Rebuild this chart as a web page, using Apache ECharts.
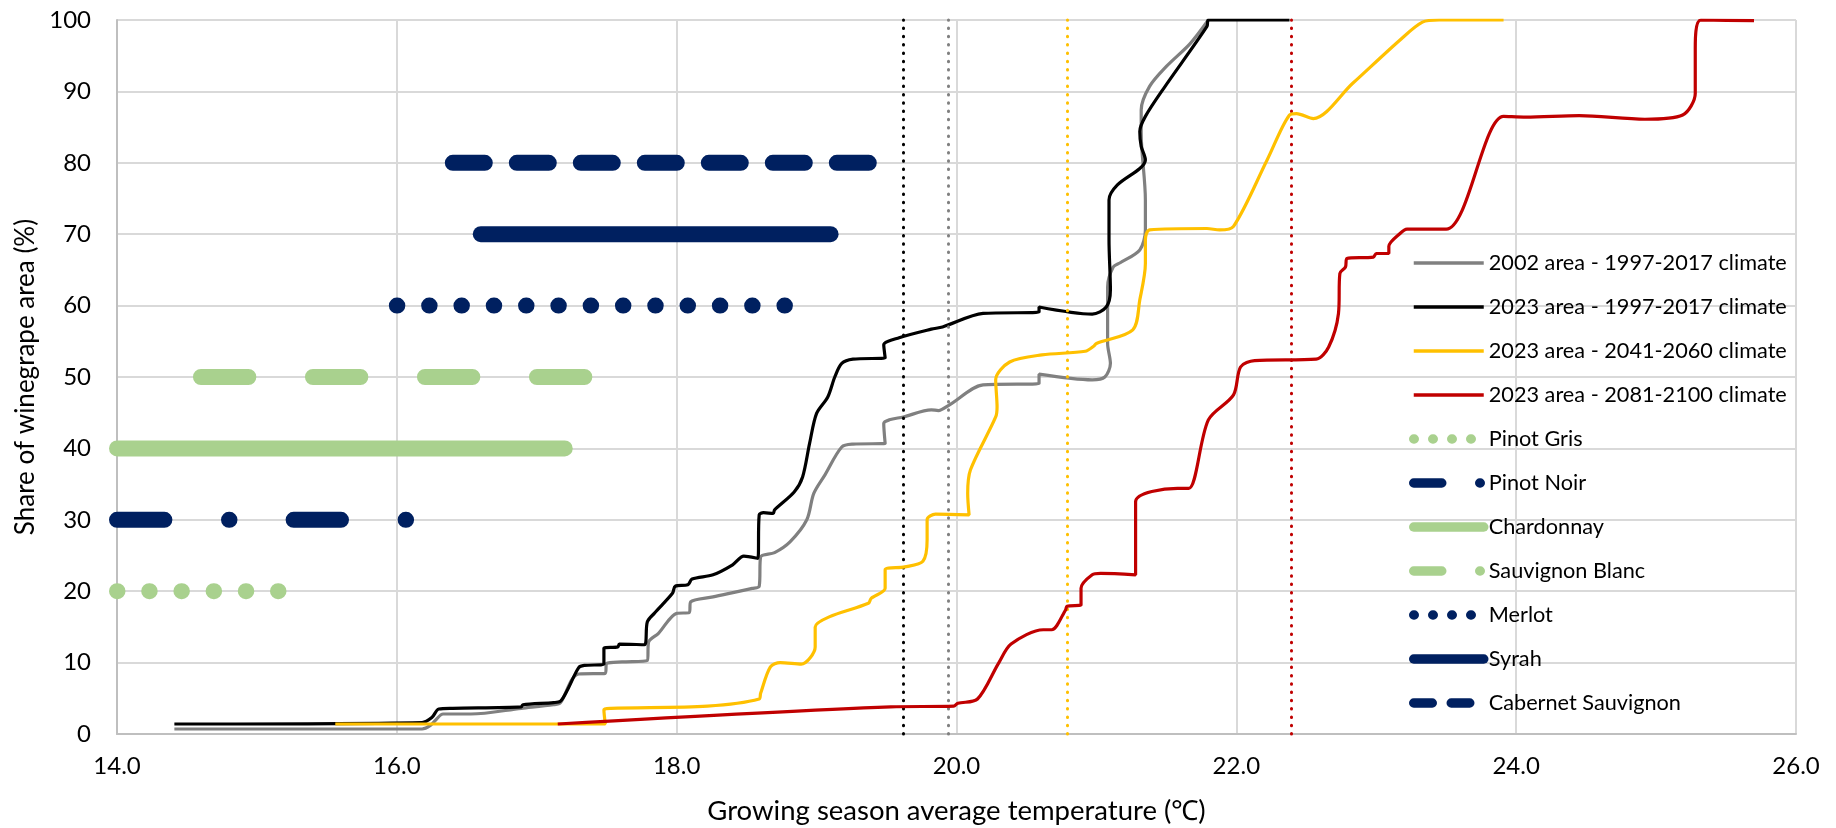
<!DOCTYPE html>
<html>
<head>
<meta charset="utf-8">
<title>Winegrape area and growing season temperature</title>
<script src="https://cdn.jsdelivr.net/npm/echarts@6/dist/echarts.min.js"></script>
<style>
  html, body { margin: 0; padding: 0; background: #fff; }
  #chart { width: 1836px; height: 828px; }
</style>
</head>
<body>
<div id="chart"></div>
<script>
// cumulative share of winegrape area, points are [temperature °C, share %]
const area2002Clim9717 = [
  [14.41, 0.7], [16.18, 0.7], [16.24, 1.2], [16.28, 2.0], [16.33, 2.8], [16.53, 2.8], [16.89, 3.6],
  [17.12, 4.1], [17.17, 4.4], [17.25, 7.6], [17.30, 8.4], [17.49, 8.5], [17.50, 9.9], [17.61, 10.1],
  [17.79, 10.3], [17.80, 12.9], [17.87, 14.1], [18.00, 16.9], [18.09, 17.0], [18.10, 18.5], [18.26, 19.2],
  [18.54, 20.4], [18.59, 20.7], [18.60, 24.8], [18.70, 25.4], [18.81, 26.9], [18.93, 30.0], [18.98, 33.7],
  [19.06, 36.3], [19.18, 40.2], [19.26, 40.6], [19.49, 40.7], [19.48, 43.5], [19.52, 44.0], [19.62, 44.4],
  [19.82, 45.4], [19.87, 45.3], [19.95, 46.1], [20.19, 48.9], [20.59, 49.1], [20.59, 50.4], [20.97, 49.6],
  [21.06, 50.0], [21.10, 51.9], [21.08, 54.7], [21.08, 62.6], [21.12, 65.4], [21.17, 66.0], [21.31, 67.8],
  [21.35, 70.6], [21.35, 74.8], [21.32, 84.1], [21.32, 87.4], [21.38, 90.7], [21.50, 93.5], [21.67, 96.7],
  [21.80, 100]
];
const area2023Clim9717 = [
  [14.41, 1.4], [16.18, 1.6], [16.25, 2.3], [16.30, 3.5], [16.40, 3.6], [16.89, 3.8], [16.90, 4.1],
  [17.12, 4.4], [17.17, 4.6], [17.22, 6.2], [17.30, 9.3], [17.34, 9.6], [17.48, 9.8], [17.48, 12.0],
  [17.58, 12.2], [17.59, 12.6], [17.77, 12.5], [17.79, 15.7], [17.84, 16.9], [17.97, 19.7], [17.99, 20.7],
  [18.08, 20.9], [18.11, 21.7], [18.26, 22.3], [18.40, 23.7], [18.48, 24.9], [18.58, 24.6], [18.59, 30.7],
  [18.62, 31.0], [18.69, 30.9], [18.70, 31.4], [18.84, 33.9], [18.90, 36.0], [18.95, 40.7], [19.00, 44.9],
  [19.08, 47.2], [19.13, 50.0], [19.18, 51.9], [19.26, 52.5], [19.49, 52.7], [19.48, 54.5], [19.59, 55.5],
  [19.82, 56.7], [19.90, 57.0], [20.19, 58.9], [20.59, 59.1], [20.59, 59.8], [20.97, 58.8], [21.07, 59.8],
  [21.10, 62.2], [21.09, 69.2], [21.09, 74.8], [21.15, 76.9], [21.31, 79.2], [21.35, 80.4], [21.32, 82.3],
  [21.31, 84.4], [21.35, 86.5], [21.48, 90.4], [21.79, 99.1], [21.80, 100], [22.38, 100]
];
const area2023Clim4160 = [
  [15.56, 1.4], [17.49, 1.4], [17.48, 3.4], [17.53, 3.6], [18.22, 3.9], [18.59, 4.9], [18.60, 5.7],
  [18.67, 9.4], [18.74, 10.0], [18.89, 9.8], [18.99, 12.2], [18.99, 15.0], [19.09, 16.4], [19.37, 18.3],
  [19.39, 19.0], [19.49, 20.4], [19.49, 23.0], [19.63, 23.4], [19.76, 24.2], [19.79, 27.2], [19.79, 30.0],
  [19.85, 30.8], [20.09, 30.7], [20.08, 33.7], [20.10, 37.0], [20.28, 44.4], [20.29, 45.8], [20.28, 49.6],
  [20.38, 52.1], [20.61, 53.1], [20.92, 53.6], [20.98, 54.3], [21.00, 54.7], [21.26, 56.6], [21.31, 60.8],
  [21.35, 65.9], [21.35, 69.2], [21.38, 70.6], [21.79, 70.8], [21.88, 70.6], [21.98, 71.1], [22.22, 80.4],
  [22.38, 86.7], [22.43, 86.9], [22.55, 86.2], [22.83, 91.1], [23.17, 97.2], [23.33, 99.7], [23.45, 100],
  [23.91, 100]
];
const area2023Clim8100 = [
  [17.15, 1.4], [19.53, 3.8], [19.98, 3.9], [20.01, 4.3], [20.15, 4.9], [20.30, 9.9], [20.39, 12.6],
  [20.62, 14.6], [20.68, 14.6], [20.78, 17.4], [20.79, 17.9], [20.89, 18.1], [20.89, 20.4], [20.97, 22.3],
  [21.03, 22.5], [21.28, 22.3], [21.28, 32.5], [21.58, 34.4], [21.66, 34.4], [21.80, 44.0], [21.98, 47.5],
  [22.03, 51.4], [22.13, 52.3], [22.57, 52.5], [22.66, 54.2], [22.73, 58.9], [22.74, 64.5], [22.78, 65.4],
  [22.79, 66.6], [22.98, 66.8], [23.00, 67.3], [23.09, 67.3], [23.09, 68.3], [23.17, 70.1], [23.22, 70.7],
  [23.50, 70.7], [23.91, 86.5], [24.07, 86.4], [24.45, 86.6], [24.92, 86.1], [25.19, 86.7], [25.28, 89.7],
  [25.28, 96.0], [25.32, 100], [25.70, 99.9]
];

const curveNames = [
  '2002 area - 1997-2017 climate',
  '2023 area - 1997-2017 climate',
  '2023 area - 2041-2060 climate',
  '2023 area - 2081-2100 climate'
];
const curveData = [area2002Clim9717, area2023Clim9717, area2023Clim4160, area2023Clim8100];
const curveColors = ['#808080', '#000000', '#FFC000', '#C00000'];
// mean temperature of each curve, drawn as a dotted vertical
const meanTemps = [19.94, 19.62, 20.79, 22.39];

// varietal temperature ranges, each at its own height on the share axis
const varietyNames = ['Pinot Gris', 'Pinot Noir', 'Chardonnay', 'Sauvignon Blanc', 'Merlot', 'Syrah', 'Cabernet Sauvignon'];
const varietyLevels = [20, 30, 40, 50, 60, 70, 80];
const varietyFrom = [14.0, 14.0, 14.0, 14.6, 16.0, 16.6, 16.4];
const varietyTo = [15.2, 16.1, 17.2, 17.4, 18.8, 19.1, 19.4];

const navy = '#002060';
const green = '#A9D18E';
const varietyColors = [green, navy, green, green, navy, navy, navy];
// dash pattern on the plot and in the legend
const varietyDash = [[0.5, 31.7], [47.4, 64.6, 0.5, 64.1], 'solid', [47.4, 64.6], [0.5, 31.8], 'solid', [32, 32]];
const varietyLegendDash = [[0.5, 18.5], [28, 38, 0.5, 100], 'solid', [28, 38, 0.5, 100], [0.5, 18.5], 'solid', [18.5, 19]];

const font = 'Lato, "Open Sans", sans-serif';
const chart = echarts.init(document.getElementById('chart'));

const series = [];
curveNames.forEach(function (name, i) {
  series.push({
    name: name,
    type: 'line',
    data: curveData[i],
    symbol: 'none',
    smooth: 0.3,
    z: 3 + i,
    lineStyle: { color: curveColors[i], width: 3.2 },
    markLine: {
      silent: true,
      symbol: ['none', 'none'],
      label: { show: false },
      lineStyle: { color: curveColors[i], width: 3, type: [0.5, 7.8], cap: 'round' },
      data: [{ xAxis: meanTemps[i] }]
    }
  });
});
varietyNames.forEach(function (name, i) {
  series.push({
    name: name,
    type: 'line',
    data: [[varietyFrom[i], varietyLevels[i]], [varietyTo[i], varietyLevels[i]]],
    symbol: 'none',
    z: 2,
    lineStyle: { color: varietyColors[i], width: 16, cap: 'round', type: varietyDash[i] }
  });
});

const legendData = curveNames.map(function (name) {
  return { name: name, lineStyle: { width: 3.5, type: 'solid', cap: 'butt' } };
}).concat(varietyNames.map(function (name, i) {
  return { name: name, lineStyle: { width: 9.5, type: varietyLegendDash[i], cap: 'round' } };
}));

const option = {
  backgroundColor: '#ffffff',
  animation: false,
  grid: { left: 117, right: 40, top: 20, bottom: 94, containLabel: false, outerBoundsMode: 'none' },
  legend: {
    orient: 'vertical',
    left: 1404,
    top: 247,
    itemWidth: 70,
    itemHeight: 20,
    itemGap: 22,
    itemStyle: { opacity: 0, borderWidth: 0 },
    textStyle: { fontFamily: font, fontSize: 21.7, color: '#000' },
    data: legendData
  },
  xAxis: {
    type: 'value',
    min: 14,
    max: 26,
    interval: 2,
    name: 'Growing season average temperature (\u2103)',
    nameLocation: 'middle',
    nameGap: 63,
    nameTextStyle: { fontFamily: font, fontSize: 27.5, color: '#000' },
    axisLine: { show: true, lineStyle: { color: '#BFBFBF', width: 2 } },
    axisTick: { show: false },
    axisLabel: {
      margin: 20, fontFamily: font, fontSize: 24, color: '#000',
      formatter: function (v) { return v.toFixed(1); }
    },
    splitLine: { show: true, lineStyle: { color: '#D9D9D9', width: 2 } }
  },
  yAxis: {
    type: 'value',
    min: 0,
    max: 100,
    interval: 10,
    name: 'Share of winegrape area (%)',
    nameLocation: 'middle',
    nameGap: 76,
    nameTextStyle: { fontFamily: font, fontSize: 26, color: '#000' },
    axisLine: { show: true, lineStyle: { color: '#BFBFBF', width: 2 } },
    axisTick: { show: false },
    axisLabel: { margin: 26, fontFamily: font, fontSize: 24, color: '#000' },
    splitLine: { show: true, lineStyle: { color: '#D9D9D9', width: 2 } }
  },
  series: series
};
chart.setOption(option);
</script>
</body>
</html>
